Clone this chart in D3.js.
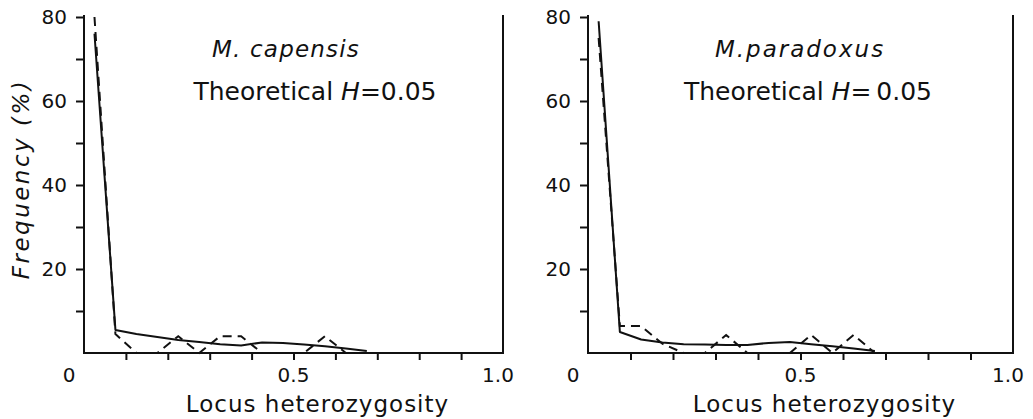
<!DOCTYPE html>
<html>
<head>
<meta charset="utf-8">
<script src="https://cdn.jsdelivr.net/npm/d3@7"></script>
<style>
  body { margin: 0; background: #fff; }
  svg { display: block; }
  text { font-family: "DejaVu Sans", sans-serif; fill: #111; }
</style>
</head>
<body>
<div id="chart"></div>
<script>
// heterozygosity class midpoints (x) and frequencies (%)
var hetMid = [0.025, 0.075, 0.125, 0.175, 0.225, 0.275, 0.325, 0.375, 0.425, 0.475, 0.525, 0.575, 0.625, 0.675];

var capensisTheory   = [76, 5.5, 4.5, 3.8, 3.1, 2.6, 2.1, 1.8, 2.5, 2.4, 2.0, 1.6, 1.1, 0.5];
var capensisObserved = [80, 4.5, 0, 0, 4, 0, 4, 4, 0, 0, 0, 4, 0, 0];

var paradoxusTheory   = [79, 5, 3.2, 2.5, 2.1, 2.0, 1.9, 1.9, 2.4, 2.6, 2.1, 1.6, 1.1, 0.5];
var paradoxusObserved = [75, 6.4, 6.4, 2.2, 0, 0, 4.3, 0, 0, 0, 4.3, 0, 4.3, 0];

var yTicks = [10, 20, 30, 40, 50, 60, 70, 80];
var yLabels = [20, 40, 60, 80];
var xTicks = [0.1, 0.2, 0.3, 0.4, 0.5, 0.6, 0.7, 0.8, 0.9];
var xLabels = [0, 0.5, 1.0];

var svgWidth = 1033, svgHeight = 419;

var svg = d3.select("#chart")
  .append("svg")
  .attr("width", svgWidth)
  .attr("height", svgHeight);

var panels = [
  { name: "M. capensis", nameSpacing: 1.2, theo: "=0.05", left: 84, right: 503,
    theory: capensisTheory, observed: capensisObserved, titleX: 286, subX: 315, yTitle: true },
  { name: "M.paradoxus", nameSpacing: 2, theo: "=\u20090.05", left: 588, right: 1013,
    theory: paradoxusTheory, observed: paradoxusObserved, titleX: 800, subX: 808, yTitle: false }
];

var plotTop = 17, plotBottom = 353;

panels.forEach(function(p) {
  var x = d3.scaleLinear().domain([0, 1]).range([p.left, p.right]);
  var y = d3.scaleLinear().domain([0, 80]).range([plotBottom, plotTop]);

  var g = svg.append("g");

  // left axis
  var leftAxis = d3.axisLeft(y)
    .tickValues(yTicks)
    .tickSize(8)
    .tickSizeOuter(0)
    .tickPadding(9)
    .tickFormat(function(d) { return yLabels.indexOf(d) >= 0 ? d : ""; });

  var ya = g.append("g")
    .attr("transform", "translate(" + p.left + ",0)")
    .call(leftAxis);
  ya.select(".domain").remove();
  ya.selectAll("line").attr("stroke", "#111").attr("stroke-width", 2);
  ya.selectAll("text").style("font-size", "20px").attr("fill", "#111");

  // bottom axis
  var bottomAxis = d3.axisBottom(x)
    .tickValues(xTicks)
    .tickSize(7)
    .tickSizeOuter(0)
    .tickFormat("");
  var xa = g.append("g")
    .attr("transform", "translate(0," + plotBottom + ")")
    .call(bottomAxis);
  xa.select(".domain").remove();
  xa.selectAll("line").attr("stroke", "#111").attr("stroke-width", 2);

  // frame: left, bottom and right edges
  g.append("path")
    .attr("d", "M" + x(0) + "," + (y(80) - 2) + "V" + y(0) + "H" + x(1) + "V" + (y(80) - 2))
    .attr("fill", "none")
    .attr("stroke", "#111")
    .attr("stroke-width", 2);

  // x labels
  g.selectAll(".xlab")
    .data(xLabels)
    .enter()
    .append("text")
    .attr("x", function(d) { return d === 0 ? x(d) - 15 : x(d) - (d === 1 ? 5 : 0); })
    .attr("y", 382)
    .attr("text-anchor", "middle")
    .style("font-size", "20px")
    .text(function(d) { return d === 0 ? "0" : d.toFixed(1); });

  g.append("text")
    .attr("x", (x(0) + x(1)) / 2 + 24)
    .attr("y", 412)
    .attr("text-anchor", "middle")
    .style("font-size", "23px")
    .style("letter-spacing", "1px")
    .text("Locus heterozygosity");

  // lines
  var line = d3.line()
    .x(function(d) { return x(d[0]); })
    .y(function(d) { return y(d[1]); });

  g.append("path")
    .datum(hetMid.map(function(h, i) { return [h, p.theory[i]]; }))
    .attr("d", line)
    .attr("fill", "none")
    .attr("stroke", "#111")
    .attr("stroke-width", 2)
    .attr("stroke-linejoin", "round");

  g.append("path")
    .datum(hetMid.map(function(h, i) { return [h, p.observed[i]]; }))
    .attr("d", line)
    .attr("fill", "none")
    .attr("stroke", "#111")
    .attr("stroke-width", 2)
    .attr("stroke-dasharray", "9,6");

  // titles
  g.append("text")
    .attr("x", p.titleX)
    .attr("y", 57)
    .attr("text-anchor", "middle")
    .style("font-size", "23px")
    .style("font-style", "italic")
    .style("letter-spacing", p.nameSpacing + "px")
    .text(p.name);

  var sub = g.append("text")
    .attr("x", p.subX)
    .attr("y", 100)
    .attr("text-anchor", "middle")
    .style("font-size", "25px");
  sub.append("tspan").text("Theoretical ");
  sub.append("tspan").style("font-style", "italic").text("H");
  sub.append("tspan").text(p.theo);

  if (p.yTitle) {
    svg.append("text")
      .attr("transform", "translate(29,179) rotate(-90)")
      .attr("text-anchor", "middle")
      .style("font-size", "23px")
      .style("font-style", "italic")
      .style("letter-spacing", "2.5px")
      .text("Frequency (%)");
  }
});
</script>
</body>
</html>
